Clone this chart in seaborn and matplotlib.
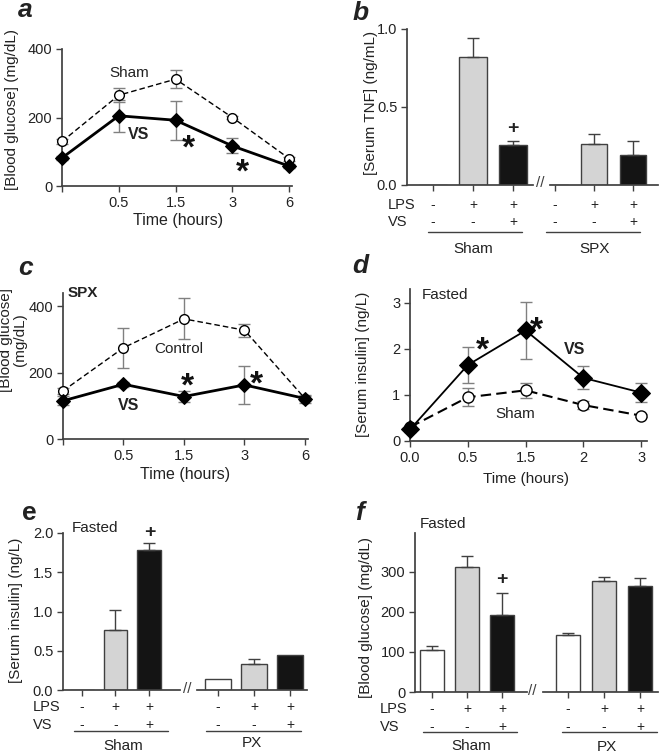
import numpy as np
import pandas as pd
import matplotlib
matplotlib.use("Agg")
import matplotlib.pyplot as plt
import matplotlib.transforms as mtransforms
from matplotlib.lines import Line2D
import seaborn as sns

sns.set_theme(style="ticks")
plt.rcParams['font.family'] = ['Liberation Sans', 'DejaVu Sans']
plt.rcParams['axes.edgecolor'] = '#404040'
plt.rcParams['text.color'] = '#222222'
plt.rcParams['xtick.color'] = '#404040'
plt.rcParams['ytick.color'] = '#404040'
plt.rcParams['xtick.labelcolor'] = '#222222'
plt.rcParams['ytick.labelcolor'] = '#222222'

W, H = 659, 755

# ---- data ----
time_ac = ['', '0.5', '1.5', '3', '6']
a_sham = [130, 265, 312, 200, 80]
a_sham_err = [8, 20, 27, 5, 6]
a_vs = [82, 205, 192, 117, 58]
a_vs_err = [6, 46, 57, 22, 6]

c_ctrl = [145, 275, 362, 328, 122]
c_ctrl_err = [8, 60, 62, 20, 8]
c_vs = [115, 165, 128, 163, 122]
c_vs_err = [14, 8, 17, 57, 12]

time_d = ['0.0', '0.5', '1.5', '2', '3']
d_sham = [0.30, 0.95, 1.10, 0.78, 0.55]
d_sham_err = [0.05, 0.20, 0.17, 0.08, 0.03]
d_vs = [0.25, 1.65, 2.40, 1.37, 1.05]
d_vs_err = [0.05, 0.38, 0.62, 0.25, 0.21]

lps_signs = ['-', '+', '+']
vs_signs = ['-', '-', '+']
bar_colors = ['white', '#d4d4d4', '#141414']

b_sham = [0, 0.82, 0.255]
b_sham_err = [0, 0.12, 0.03]
b_spx = [0, 0.265, 0.19]
b_spx_err = [0, 0.065, 0.095]

e_sham = [0, 0.77, 1.78]
e_sham_err = [0, 0.25, 0.09]
e_px = [0.14, 0.33, 0.45]
e_px_err = [0, 0.07, 0]

f_sham = [105, 313, 192]
f_sham_err = [9, 27, 55]
f_px = [143, 276, 265]
f_px_err = [4, 11, 19]

fig = plt.figure(figsize=(W / 100, H / 100), dpi=100)


def add_ax(left, top, right, bottom):
    return fig.add_axes([left / W, 1 - bottom / H, (right - left) / W, (bottom - top) / H])


def ftext(x, y, s, **kw):
    kw.setdefault('ha', 'center')
    kw.setdefault('va', 'center')
    kw.setdefault('fontsize', 10)
    fig.text(x / W, 1 - y / H, s, **kw)


def hline(x0, x1, y):
    fig.add_artist(Line2D([x0 / W, x1 / W], [1 - y / H, 1 - y / H], color='#404040', lw=1))


def style(ax, fs=10.5):
    sns.despine(ax=ax)
    ax.tick_params(direction='out', length=4, width=1, labelsize=fs, pad=3)
    ax.set_xlabel('')
    ax.set_ylabel('')


def star(ax, x, y, fs=24):
    ax.annotate('*', (x, y), xytext=(0, -0.6 * fs), textcoords='offset points',
                ha='center', va='baseline', fontsize=fs, fontweight='bold', color='#111111')


def err(ax, x, y, e, color='#808080', cap=4):
    eb = ax.errorbar(x, y, yerr=e, fmt='none', ecolor=color, elinewidth=1, capsize=cap,
                     capthick=1, zorder=2)
    for art in eb.get_children():
        art.set_clip_on(False)


def line_panel(ax, ctrl, ctrl_err, vs, vs_err, labels, dash, lw_vs, lw_c, ms_c, ms_vs):
    x = np.arange(len(ctrl))
    err(ax, x, ctrl, ctrl_err)
    err(ax, x, vs, vs_err)
    sns.lineplot(x=x, y=ctrl, ax=ax, color='black', linewidth=lw_c, marker='o',
                 markersize=ms_c, markerfacecolor='white', markeredgecolor='black',
                 markeredgewidth=1, clip_on=False, zorder=3)
    ax.lines[-1].set_dashes(dash)
    sns.lineplot(x=x, y=vs, ax=ax, color='black', linewidth=lw_vs, marker='D',
                 markersize=ms_vs, markerfacecolor='black', markeredgecolor='black',
                 clip_on=False, zorder=4)
    ax.set_xticks(x)
    ax.set_xticklabels(labels)
    style(ax)


def bar_half(ax, vals, errs, xlim, width):
    df = pd.DataFrame({'cond': ['c0', 'c1', 'c2'], 'val': vals})
    sns.barplot(data=df, x='cond', y='val', hue='cond', palette=bar_colors, legend=False,
                width=width, edgecolor='#404040', linewidth=1, errorbar=None, ax=ax)
    xs = [i for i, e in enumerate(errs) if e > 0]
    if xs:
        ax.errorbar(xs, [vals[i] for i in xs], yerr=[[0] * len(xs), [errs[i] for i in xs]],
                    fmt='none', ecolor='#404040', elinewidth=1, capsize=4, capthick=1)
    ax.set_xlim(*xlim)
    ax.set_xticks(range(3))
    ax.set_xticklabels([])
    style(ax)


def sign_rows(ax, y_lps, y_vs):
    tr = mtransforms.blended_transform_factory(ax.transData, fig.transFigure)
    for i in range(3):
        ax.text(i, 1 - y_lps / H, lps_signs[i], transform=tr, ha='center', va='center', fontsize=10)
        ax.text(i, 1 - y_vs / H, vs_signs[i], transform=tr, ha='center', va='center', fontsize=10)


def bar_panel(left_box, right_box, xl, xr, left_vals, left_err, right_vals, right_err,
              ylim, yticks, yticklabels, width, rows, label_x, brk, groups):
    axl = add_ax(*left_box)
    axr = add_ax(*right_box)
    bar_half(axl, left_vals, left_err, xl, width)
    bar_half(axr, right_vals, right_err, xr, width)
    for ax in (axl, axr):
        ax.set_ylim(*ylim)
    axl.set_yticks(yticks)
    axl.set_yticklabels(yticklabels)
    axr.set_yticks([])
    axr.spines['left'].set_visible(False)
    y_lps, y_vs, y_line, y_grp = rows
    sign_rows(axl, y_lps, y_vs)
    sign_rows(axr, y_lps, y_vs)
    ftext(label_x, y_lps, 'LPS', ha='left', fontsize=10.5)
    ftext(label_x, y_vs, 'VS', ha='left', fontsize=10.5)
    ftext(brk[0], brk[1], '//', fontsize=11, color='#404040')
    for (x0, x1, xc, yc, name) in groups:
        hline(x0, x1, y_line)
        ftext(xc, yc, name, fontsize=11)
    return axl, axr


# ---- panel a ----
ax = add_ax(62, 49, 292, 186)
line_panel(ax, a_sham, a_sham_err, a_vs, a_vs_err, time_ac, (4, 2.2), 2, 1, 7, 7)
ax.set_xlim(0, 4.05)
ax.set_ylim(0, 400)
ax.set_yticks([0, 200, 400])
ax.text(1.18, 330, 'Sham', ha='center', va='center', fontsize=11)
ax.text(1.34, 150, 'VS', ha='center', va='center', fontsize=11.5, fontweight='bold')
star(ax, 2.22, 142)
star(ax, 3.18, 70)
ftext(178, 221, 'Time (hours)', fontsize=11.5)
ftext(12, 109, '[Blood glucose] (mg/dL)', rotation=90, fontsize=11)
ftext(18, 17, 'a', ha='left', va='baseline', fontsize=19, fontweight='bold', style='italic')

# ---- panel c ----
ax = add_ax(63, 293, 308, 439)
line_panel(ax, c_ctrl, c_ctrl_err, c_vs, c_vs_err, time_ac, (4, 2.2), 2, 1, 7, 7)
ax.set_xlim(0, 4.05)
ax.set_ylim(0, 440)
ax.set_yticks([0, 200, 400])
ax.text(0.33, 440, 'SPX', ha='center', va='center', fontsize=11, fontweight='bold')
ax.text(1.92, 271, 'Control', ha='center', va='center', fontsize=11)
ax.text(1.09, 102, 'VS', ha='center', va='center', fontsize=11.5, fontweight='bold')
star(ax, 2.05, 192)
star(ax, 3.2, 198)
ftext(185, 474, 'Time (hours)', fontsize=11.5)
ftext(13, 340, '[Blood glucose]\n(mg/dL)', rotation=90, fontsize=11, linespacing=1.0)
ftext(18, 275, 'c', ha='left', va='baseline', fontsize=19, fontweight='bold', style='italic')

# ---- panel d ----
ax = add_ax(410, 289, 647, 441)
line_panel(ax, d_sham, d_sham_err, d_vs, d_vs_err, time_d, (5, 2.5), 1.3, 1.5, 8, 9)
ax.set_xlim(0, 4.1)
ax.set_ylim(0, 3.3)
ax.set_yticks([0, 1, 2, 3])
ax.text(0.6, 3.17, 'Fasted', ha='center', va='center', fontsize=11)
ax.text(2.84, 1.98, 'VS', ha='center', va='center', fontsize=11.5, fontweight='bold')
ax.text(1.82, 0.59, 'Sham', ha='center', va='center', fontsize=11)
star(ax, 1.25, 2.2)
star(ax, 2.18, 2.63)
ftext(526, 479, 'Time (hours)', fontsize=11)
ftext(363, 364, '[Serum insulin] (ng/L)', rotation=90, fontsize=11)
ftext(352, 273, 'd', ha='left', va='baseline', fontsize=19, fontweight='bold', style='italic')

# ---- panel b ----
axl, axr = bar_panel((407, 29, 533, 185), (550, 29, 658, 185), (-0.65, 2.5), (-0.13, 2.64),
                     b_sham, b_sham_err, b_spx, b_spx_err, (0, 1.0), [0, 0.5, 1.0],
                     ['0.0', '0.5', '1.0'], 0.68, (205, 222, 232, 249), 388, (540, 183),
                     [(428, 522, 473, 249, 'Sham'), (546, 640, 595, 249, 'SPX')])
axl.text(2, 0.365, '+', ha='center', va='center', fontsize=14, fontweight='bold')
ftext(371, 103, '[Serum TNF] (ng/mL)', rotation=90, fontsize=11)
ftext(353, 20, 'b', ha='left', va='baseline', fontsize=19, fontweight='bold', style='italic')

# ---- panel e ----
axl, axr = bar_panel((63, 533, 180, 690), (197, 533, 307, 690), (-0.57, 2.93), (-0.58, 2.47),
                     e_sham, e_sham_err, e_px, e_px_err, (0, 2.0), [0, 0.5, 1.0, 1.5, 2.0],
                     ['0.0', '0.5', '1.0', '1.5', '2.0'], 0.7, (707, 725, 731, 746), 33,
                     (187, 689), [(74, 168, 123, 746, 'Sham'), (206, 301, 252, 743, 'PX')])
axl.text(0.39, 2.06, 'Fasted', ha='center', va='center', fontsize=11)
axl.text(2.03, 2.01, '+', ha='center', va='center', fontsize=14, fontweight='bold')
ftext(16, 610, '[Serum insulin] (ng/L)', rotation=90, fontsize=11)
ftext(22, 520, 'e', ha='left', va='baseline', fontsize=19, fontweight='bold')

# ---- panel f ----
axl, axr = bar_panel((415, 533, 527, 692), (543, 533, 658, 692), (-0.49, 2.71), (-0.69, 2.5),
                     f_sham, f_sham_err, f_px, f_px_err, (0, 397), [0, 100, 200, 300],
                     ['0', '100', '200', '300'], 0.68, (709, 727, 732, 746), 380,
                     (532, 691), [(423, 517, 471, 746, 'Sham'), (562, 657, 607, 747, 'PX')])
axl.text(0.32, 420, 'Fasted', ha='center', va='center', fontsize=11, clip_on=False)
axl.text(2, 282, '+', ha='center', va='center', fontsize=14, fontweight='bold')
ftext(366, 617, '[Blood glucose] (mg/dL)', rotation=90, fontsize=11)
ftext(355, 520, 'f', ha='left', va='baseline', fontsize=19, fontweight='bold', style='italic')

fig.savefig('out.png', dpi=100)
